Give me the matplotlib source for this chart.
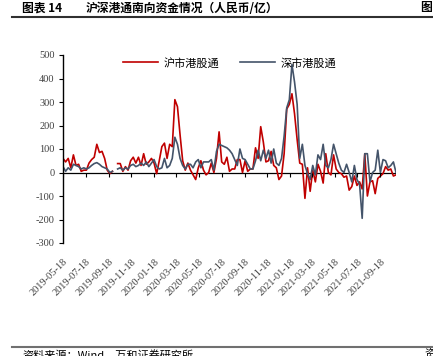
import matplotlib
matplotlib.use("Agg")
import matplotlib.pyplot as plt
import numpy as np
import pandas as pd

# weekly southbound flows, 100m RMB
start_date = "2019-05-18"
sh_values = [
    60, 45, 60, 20, 75, 30, 35, 5, 10, 10,
    40, 55, 65, 120, 85, 90, 60, 10, -5, 5,
    np.nan, 38, 38, 5, 25, 10, 50, 65, 40, 65,
    30, 80, 35, 45, 60, 40, -5, 50, 110, 125,
    60, 120, 110, 310, 280, 160, 50, 10, 40, 10,
    -10, -30, 20, 50, 10, -10, 0, 40, 0, 60,
    173, 45, 35, 65, 5, 15, 15, 55, 55, 0,
    50, 5, 15, 15, 105, 60, 195, 130, 45, 50,
    90, 30, 20, -30, -15, 80, 270, 290, 335, 250,
    140, 40, 35, -110, 20, -80, 10, -40, 35, 5,
    -45, 80, 0, -10, 75, 15, 0, -5, -20, -15,
    -75, -60, -15, -55, -40, -70, 80, -100, -40, -35,
    -90, -25, -15, -5, 25, 10, 15, -15, -10,
]
sz_values = [
    25, 5, 20, 10, 35, 30, 25, 15, 20, 15,
    20, 30, 38, 42, 35, 25, 20, 15, 0, 5,
    np.nan, 15, 20, 10, 20, 15, 30, 35, 25, 30,
    40, 30, 45, 25, 40, 55, 25, 15, 20, 60,
    20, 30, 60, 150, 120, 60, 30, 15, 35, 35,
    20, 45, 55, 20, 45, 45, 45, 55, 10, 90,
    120, 115, 110, 105, 95, 80, 55, 30, 100, 60,
    55, 35, 15, 15, 50, 95, 50, 95, 60, 95,
    40, 100, 40, 30, 60, 155, 275, 310, 460, 385,
    290, 60, 120, 30, -5, -30, 30, -10, 75, 55,
    120, 30, 20, 55, 120, 80, 40, 10, 0, 35,
    0, -40, 30, -30, -50, -195, 80, 80, -40, 0,
    10, 95, 0, 55, 50, 20, 30, 45, 0,
]
tick_labels = [
    "2019-05-18", "2019-07-18", "2019-09-18", "2019-11-18", "2020-01-18",
    "2020-03-18", "2020-05-18", "2020-07-18", "2020-09-18", "2020-11-18",
    "2021-01-18", "2021-03-18", "2021-05-18", "2021-07-18", "2021-09-18",
]
y_ticks = [500, 400, 300, 200, 100, 0, -100, -200, -300]

dates = pd.date_range(start_date, periods=len(sh_values), freq="7D")
tick_dates = pd.to_datetime(tick_labels)

cjk = ["Noto Sans CJK SC", "DejaVu Sans"]
serif = "Liberation Serif"
RED = "#C00000"
BLUE = "#44546A"

fig = plt.figure(figsize=(4.33, 3.56), dpi=100, facecolor="white")
ax = fig.add_axes([63 / 433, 1 - 243 / 356, (396 - 63) / 433, (243 - 55) / 356])

ax.plot(dates, sh_values, color=RED, lw=1.2, label="沪市港股通")
ax.plot(dates, sz_values, color=BLUE, lw=1.2, label="深市港股通")

# zero line with small downward ticks
ax.axhline(0, color="black", lw=0.9, zorder=1)
ax.plot(tick_dates, np.zeros(len(tick_dates)), ls="", marker=3, ms=3, mew=0.8, color="black")

ax.set_xlim(dates[0], dates[-1])
ax.set_ylim(-300, 500)
ax.set_yticks(y_ticks)
ax.set_yticklabels([str(v) for v in y_ticks], fontfamily=serif, fontsize=7.5, color="#404040")
ax.tick_params(axis="y", direction="out", length=3, width=0.8, pad=3)

ax.set_xticks(tick_dates)
ax.set_xticklabels(tick_labels, rotation=45, ha="right", va="top", rotation_mode="anchor",
                   fontfamily=serif, fontsize=7.5, color="#404040")
ax.tick_params(axis="x", length=0, pad=10)

for side in ("top", "right", "bottom"):
    ax.spines[side].set_visible(False)
ax.spines["left"].set_linewidth(1.0)

ax.legend(loc="upper center", bbox_to_anchor=(0.5, 1.04), ncol=2, frameon=False,
          prop={"family": cjk, "size": 8}, handlelength=3.2, columnspacing=1.8,
          handletextpad=0.5)

# header and footer
fig.text(22 / 433, 1 - 8 / 356, "图表 14", fontfamily=cjk, fontsize=8.5, fontweight="bold",
         va="center", ha="left")
fig.text(86 / 433, 1 - 8 / 356, "沪深港通南向资金情况（人民币/亿）", fontfamily=cjk, fontsize=8.5,
         fontweight="bold", va="center", ha="left")
fig.text(420 / 433, 1 - 8 / 356, "图", fontfamily=cjk, fontsize=8.5, fontweight="bold",
         va="center", ha="left")
fig.add_artist(plt.Line2D([12 / 433, 1.0], [1 - 17 / 356, 1 - 17 / 356], color="#303030", lw=1.5))
fig.add_artist(plt.Line2D([12 / 433, 1.0], [1 - 347 / 356, 1 - 347 / 356], color="#707070", lw=1.5))
fig.text(22 / 433, 1 - 350 / 356, "资料来源：Wind，万和证券研究所", fontfamily=cjk, fontsize=8,
         va="top", ha="left")
fig.text(424 / 433, 1 - 350 / 356, "资", fontfamily=cjk, fontsize=8, va="top", ha="left")

fig.savefig("out.png", dpi=100, facecolor="white")
